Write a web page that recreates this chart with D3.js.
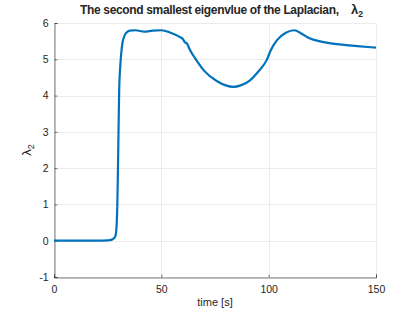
<!DOCTYPE html>
<html>
<head>
<meta charset="utf-8">
<script src="https://cdn.jsdelivr.net/npm/d3@7"></script>
<style>
  body { margin: 0; background: #fff; }
  text { font-family: "Liberation Sans", Arial, sans-serif; fill: #262626; }
</style>
</head>
<body>
<svg width="415" height="312"></svg>
<script>
// time samples [s] and lambda_2 values
const timeVals = [0, 10, 20, 25, 27, 28, 28.7, 29.1, 29.5, 29.8, 30.1, 30.4, 30.8, 31.3, 31.9, 32.6, 33.5, 35.3, 38, 42, 46, 50, 54, 58.7, 60, 61, 62, 63, 66.4, 70, 75.8, 80, 83.5, 87, 91.3, 95, 99, 101, 103.8, 108, 112, 115, 119, 125, 130, 140, 150];
const lambdaVals = [0, 0, 0, 0.01, 0.03, 0.07, 0.15, 0.35, 1.0, 2.0, 3.2, 4.24, 4.75, 5.15, 5.45, 5.61, 5.72, 5.79, 5.8, 5.76, 5.79, 5.8, 5.74, 5.61, 5.56, 5.47, 5.43, 5.3, 4.97, 4.68, 4.4, 4.28, 4.24, 4.28, 4.42, 4.65, 4.97, 5.25, 5.52, 5.73, 5.8, 5.72, 5.58, 5.48, 5.43, 5.37, 5.32];
const xTicks = [0, 50, 100, 150];
const yTicks = [-1, 0, 1, 2, 3, 4, 5, 6];

const svg = d3.select("svg");
const margin = {left: 54, right: 39, top: 23, bottom: 35};
const w = 415 - margin.left - margin.right,
      h = 312 - margin.top - margin.bottom;

const x = d3.scaleLinear().domain([0, 150]).range([margin.left, margin.left + w]);
const y = d3.scaleLinear().domain([-1, 6]).range([margin.top + h, margin.top]);

// grid
const grid = svg.append("g").attr("stroke", "#ebebeb").attr("stroke-width", 1);
grid.selectAll(".gx").data(xTicks).join("line")
  .attr("x1", d => Math.round(x(d)) + 0.5).attr("x2", d => Math.round(x(d)) + 0.5)
  .attr("y1", y(-1)).attr("y2", y(6));
grid.selectAll(".gy").data(yTicks).join("line")
  .attr("y1", d => Math.round(y(d)) + 0.5).attr("y2", d => Math.round(y(d)) + 0.5)
  .attr("x1", x(0)).attr("x2", x(150));

// axes
const xAxis = svg.append("g")
  .attr("transform", `translate(0,${Math.round(y(-1)) + 0.5})`)
  .call(d3.axisBottom(x).tickValues(xTicks).tickFormat(d => String(d)).tickSize(-3).tickPadding(8));
const yAxis = svg.append("g")
  .attr("transform", `translate(${Math.round(x(0)) + 0.5},0)`)
  .call(d3.axisLeft(y).tickValues(yTicks).tickFormat(d => String(d)).tickSize(-3).tickPadding(6));
[xAxis, yAxis].forEach(a => {
  a.select(".domain").attr("stroke", "#262626").attr("stroke-opacity", 0.6);
  a.selectAll(".tick line").attr("stroke", "#262626").attr("stroke-opacity", 0.6);
  a.selectAll(".tick text").attr("font-size", 10.5).attr("font-family", "Liberation Sans, Arial, sans-serif").attr("fill", "#262626");
});

// the curve
const line = d3.line()
  .x((d, i) => x(timeVals[i]))
  .y(d => y(d))
  .curve(d3.curveMonotoneX);
svg.append("path")
  .datum(lambdaVals)
  .attr("fill", "none")
  .attr("stroke", "#0072BD")
  .attr("stroke-width", 2.2)
  .attr("stroke-linejoin", "round")
  .attr("d", line);

// title
const title = svg.append("text")
  .attr("x", 80).attr("y", 14)
  .attr("font-size", 12).attr("font-weight", "bold")
  .attr("fill", "#000");
title.append("tspan").attr("textLength", 259).text("The second smallest eigenvlue of the Laplacian,");
title.append("tspan").attr("x", 351).attr("font-size", 13).text("λ");
title.append("tspan").attr("font-size", 8.5).attr("dy", 3).text("2");

// x label
svg.append("text")
  .attr("x", x(75)).attr("y", 306)
  .attr("text-anchor", "middle")
  .attr("font-size", 11)
  .text("time [s]");

// y label
const yl = svg.append("text")
  .attr("transform", `translate(31,${y(2.5)}) rotate(-90)`)
  .attr("text-anchor", "middle")
  .attr("font-size", 13);
yl.append("tspan").text("λ");
yl.append("tspan").attr("font-size", 9).attr("dy", 3).text("2");
</script>
</body>
</html>
